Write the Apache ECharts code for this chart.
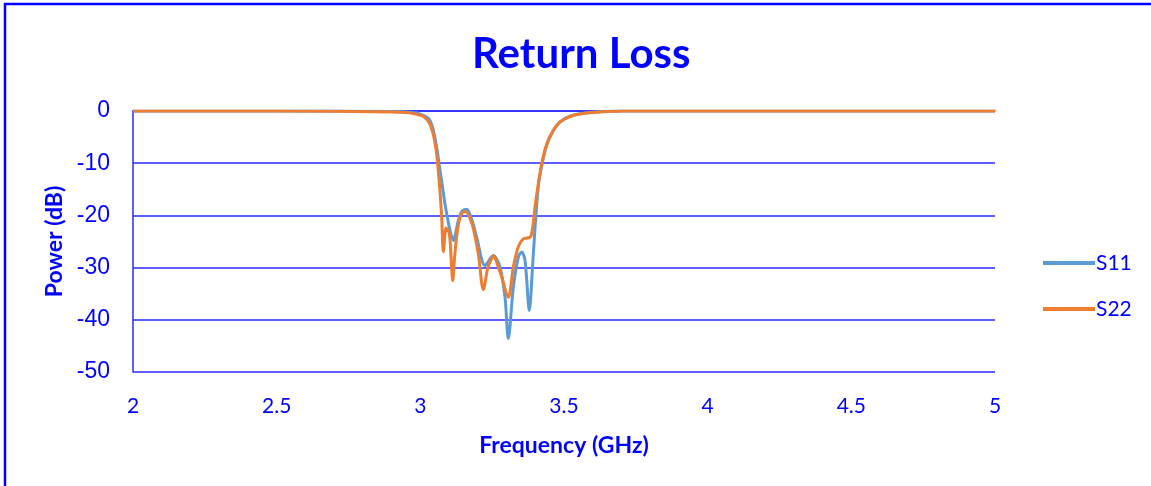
<!DOCTYPE html>
<html>
<head>
<meta charset="utf-8">
<script src="https://cdn.jsdelivr.net/npm/echarts@6/dist/echarts.min.js"></script>
<style>
  html, body { margin: 0; padding: 0; background: #ffffff; }
  #chart { width: 1151px; height: 486px; }
</style>
</head>
<body>
<div id="chart"></div>
<script>
const titleText = 'Return Loss';
const xAxisName = 'Frequency (GHz)';
const yAxisName = 'Power (dB)';
const seriesNames = ['S11', 'S22'];
const xTickLabels = ['2', '2.5', '3', '3.5', '4', '4.5', '5'];
const yTickLabels = ['-50', '-40', '-30', '-20', '-10', '0'];

// S11: [frequency GHz, dB]
const s11 = [
  [2.0, 0], [2.5, 0], [2.9, -0.1], [2.975, -0.3], [3.0, -0.6], [3.025, -1.3],
  [3.035, -2.0], [3.045, -3.6], [3.057, -7.0], [3.0685, -11.4], [3.0744, -13.5],
  [3.0859, -17.8], [3.1033, -22.9], [3.1147, -24.8], [3.1321, -21.0], [3.145, -19.2],
  [3.1614, -18.8], [3.18, -21.0], [3.1962, -24.2], [3.2251, -29.6], [3.254, -27.7],
  [3.2773, -29.9], [3.2947, -35.7], [3.3062, -43.6], [3.3236, -33.8], [3.341, -28.0],
  [3.3528, -27.0], [3.3643, -28.6], [3.3793, -38.2], [3.3911, -29.3], [3.3991, -22.5],
  [3.4106, -14.5], [3.4224, -10.5], [3.44, -6.5], [3.4628, -3.8], [3.4861, -2.1],
  [3.5209, -1.0], [3.579, -0.35], [3.65, -0.05], [3.7, 0], [4.0, 0], [4.5, 0], [5.0, 0]
];

// S22: [frequency GHz, dB]
const s22 = [
  [2.0, 0], [2.5, 0], [2.9, -0.2], [2.95, -0.3], [2.975, -0.5], [3.0, -0.8],
  [3.01, -1.0], [3.025, -1.8], [3.035, -2.7], [3.045, -4.5], [3.055, -7.5],
  [3.0625, -11.4], [3.0685, -15.5], [3.0744, -20.5], [3.08, -27.0], [3.0859, -23.5],
  [3.0893, -22.4], [3.1008, -23.5], [3.107, -28.0], [3.1127, -32.5], [3.12, -27.5],
  [3.13, -22.5], [3.138, -20.5], [3.15, -19.3], [3.159, -19.3], [3.172, -20.5],
  [3.1844, -22.5], [3.2018, -27.4], [3.2192, -34.2], [3.235, -30.0], [3.2484, -28.2],
  [3.256, -27.8], [3.2658, -29.0], [3.2832, -31.8], [3.3062, -35.7], [3.3236, -29.9],
  [3.341, -26.0], [3.3584, -24.5], [3.3817, -24.2], [3.387, -23.6], [3.393, -21.5],
  [3.3991, -18.4], [3.4106, -13.9], [3.4224, -10.1], [3.4398, -6.3], [3.4628, -3.7],
  [3.4861, -2.1], [3.5209, -1.05], [3.579, -0.4], [3.65, -0.1], [3.7, 0],
  [4.0, 0], [4.5, 0], [5.0, 0]
];

const BLUE = '#0000ff';
const GRID = '#2a2aff';
const chart = echarts.init(document.getElementById('chart'), null, { renderer: 'canvas' });

chart.setOption({
  animation: false,
  backgroundColor: '#ffffff',
  graphic: [{
    type: 'rect',
    shape: { x: 5, y: 4, width: 1200, height: 600 },
    style: { fill: 'none', stroke: BLUE, lineWidth: 2.5 },
    silent: true
  }],
  title: {
    text: titleText,
    left: 467,
    top: 28,
    textStyle: { color: BLUE, fontFamily: 'Lato', fontWeight: 'bold', fontSize: 42 }
  },
  legend: {
    orient: 'vertical',
    left: 1038,
    top: 247,
    itemWidth: 52,
    itemHeight: 4,
    itemGap: 24,
    icon: 'rect',
    data: seriesNames,
    textStyle: { color: BLUE, fontFamily: 'Lato', fontSize: 21, lineHeight: 22, padding: [0, 0, 0, -4] }
  },
  grid: { left: 133, right: 156, top: 111, bottom: 114, containLabel: false },
  xAxis: {
    type: 'value',
    min: 2, max: 5, interval: 0.5,
    name: xAxisName,
    nameLocation: 'middle',
    nameGap: 62,
    nameTextStyle: { color: BLUE, fontFamily: 'Lato', fontWeight: 'bold', fontSize: 23 },
    axisLine: { show: true, lineStyle: { color: GRID, width: 1.5 } },
    axisTick: { show: false },
    splitLine: { show: false },
    axisLabel: {
      color: BLUE, fontFamily: 'Lato', fontSize: 21, margin: 24,
      formatter: function (v) {
        const i = Math.round((v - 2) / 0.5);
        return xTickLabels[i] !== undefined ? xTickLabels[i] : '';
      }
    }
  },
  yAxis: {
    type: 'value',
    min: -50, max: 0, interval: 10,
    name: yAxisName,
    nameLocation: 'middle',
    nameGap: 66,
    nameRotate: 90,
    nameTextStyle: { color: BLUE, fontFamily: 'Lato', fontWeight: 'bold', fontSize: 23 },
    axisLine: { show: true, lineStyle: { color: GRID, width: 1.5 } },
    axisTick: { show: false },
    splitLine: { show: true, lineStyle: { color: GRID, width: 1.5 } },
    axisLabel: {
      color: BLUE, fontFamily: 'Liberation Sans', fontSize: 23, margin: 23,
      formatter: function (v) {
        const i = Math.round((v + 50) / 10);
        return yTickLabels[i] !== undefined ? yTickLabels[i] : '';
      }
    }
  },
  series: [
    {
      name: seriesNames[0], type: 'line', data: s11,
      symbol: 'none', smooth: 0.3,
      lineStyle: { color: '#5b9bd5', width: 3 },
      itemStyle: { color: '#5b9bd5' }
    },
    {
      name: seriesNames[1], type: 'line', data: s22,
      symbol: 'none', smooth: 0.3,
      lineStyle: { color: '#ed7d31', width: 3 },
      itemStyle: { color: '#ed7d31' }
    }
  ]
});
</script>
</body>
</html>
